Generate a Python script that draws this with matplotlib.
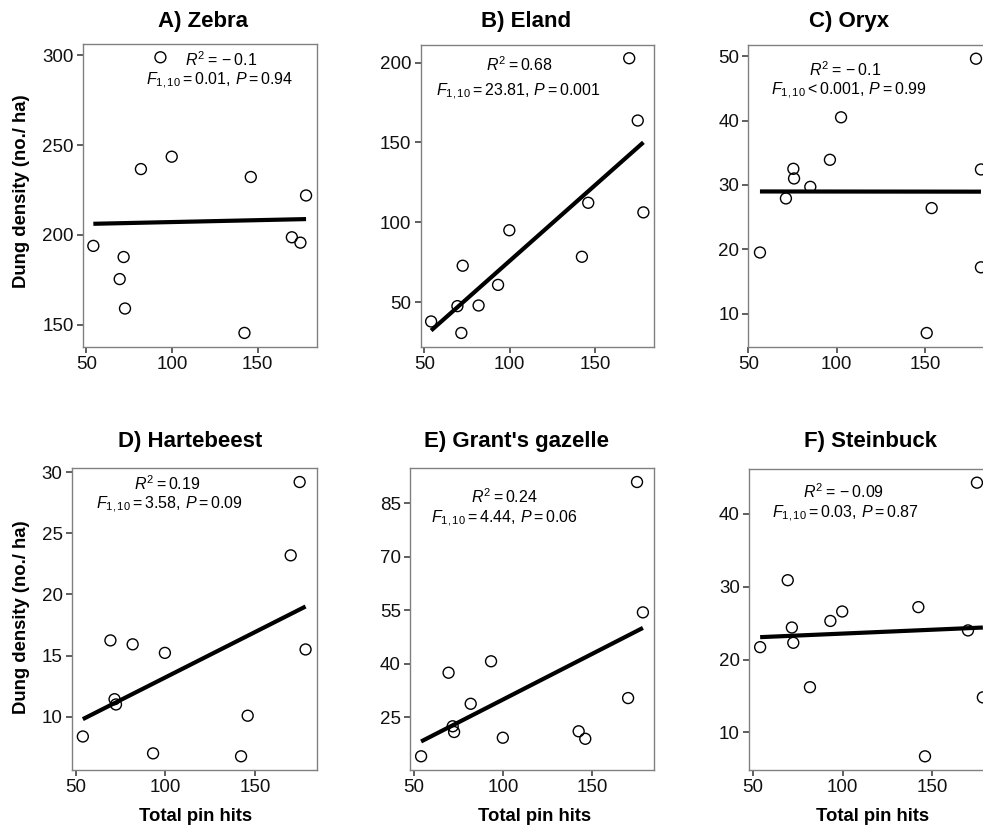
import matplotlib
matplotlib.use("Agg")
import matplotlib.pyplot as plt
import numpy as np

plt.rcParams['font.family'] = ['Liberation Sans', 'DejaVu Sans']
plt.rcParams['mathtext.fontset'] = 'custom'
plt.rcParams['mathtext.rm'] = 'Liberation Sans'
plt.rcParams['mathtext.it'] = 'Liberation Sans:italic'
plt.rcParams['mathtext.bf'] = 'Liberation Sans:bold'

# ---------------- data ----------------
titles = ["A) Zebra", "B) Eland", "C) Oryx", "D) Hartebeest", "E) Grant's gazelle", "F) Steinbuck"]

pin_hits = [54, 69.4, 71.7, 72.5, 81.8, 93.2, 99.8, 142.3, 146, 170, 175, 178.3]
pin_hits_oryx = [56.6, 71.3, 75.5, 75.9, 85.1, 96.2, 102.5, 151, 153.8, 178.9, 181.7, 181.7]

zebra = [193.9, 175.4, 187.7, 159, 236.7, 299, 243.6, 145.4, 232.3, 198.7, 195.7, 222.0]
eland = [37.9, 47.5, 30.7, 72.8, 47.9, 60.8, 95.0, 78.4, 112.2, 202.7, 163.7, 106.2]
oryx = [19.5, 27.9, 32.5, 31.0, 29.7, 33.9, 40.5, 7.0, 26.4, 49.6, 32.4, 17.2]
hartebeest = [8.38, 16.24, 11.43, 11.0, 15.92, 7.0, 15.22, 6.76, 10.08, 23.2, 29.2, 15.5]
grants_gazelle = [14.1, 37.5, 22.5, 20.9, 28.8, 40.7, 19.3, 21.1, 19.0, 30.4, 90.9, 54.4]
steinbuck = [21.7, 30.9, 24.4, 22.3, 16.2, 25.3, 26.6, 27.2, 6.7, 24.0, 44.3, 14.8]

r2_text = ["-0.1", "0.68", "-0.1", "0.19", "0.24", "-0.09"]
f_rel = ["=", "=", "<", "=", "=", "="]
f_val = ["0.01", "23.81", "0.001", "3.58", "4.44", "0.03"]
p_text = ["0.94", "0.001", "0.99", "0.09", "0.06", "0.87"]

yticks_list = [[150, 200, 250, 300], [50, 100, 150, 200], [10, 20, 30, 40, 50],
               [10, 15, 20, 25, 30], [25, 40, 55, 70, 85], [10, 20, 30, 40]]
xticks = [50, 100, 150]

xs = [pin_hits, pin_hits, pin_hits_oryx, pin_hits, pin_hits, pin_hits]
ys = [zebra, eland, oryx, hartebeest, grants_gazelle, steinbuck]

# ---------------- layout (pixels) ----------------
W, H = 983, 826
fig = plt.figure(figsize=(W / 100, H / 100), dpi=100)

boxes = [(82.7, 43.5, 316.7, 346.7), (420.5, 44.5, 654, 346.7), (748.3, 45, 992, 346.7),
         (71.7, 468.3, 316.7, 770), (410, 468.3, 654, 770), (749, 469, 994, 770)]
title_pos = [(203, 21.7), (526, 21.7), (849, 21.7), (190, 442), (517, 442), (870, 442)]
ann1_pos = [(221, 60), (519, 65), (845, 70), (167, 484), (504, 497), (844, 492)]
ann2_pos = [(220, 80.5), (518, 92), (849, 91), (169, 505), (504, 519), (845, 514)]


def fx(px):
    return px / W


def fy(py):
    return 1 - py / H


for i in range(6):
    L, T, R, B = boxes[i]
    ax = fig.add_axes([fx(L), fy(B), (R - L) / W, (B - T) / H])
    x = np.array(xs[i])
    y = np.array(ys[i])
    ax.scatter(x, y, s=62, facecolors='none', edgecolors='black', linewidths=1.0, zorder=2)
    slope, intercept = np.polyfit(x, y, 1)
    xl = np.array([x.min(), x.max()])
    ax.plot(xl, intercept + slope * xl, color='black', lw=3.0, solid_capstyle='butt', zorder=3)
    ax.margins(0.05)
    ax.set_xticks(xticks)
    ax.set_yticks(yticks_list[i])
    ax.tick_params(axis='both', labelsize=13.5, length=4, width=1.1, color='#333333',
                   labelcolor='#111111', pad=2.5)
    for sp in ax.spines.values():
        sp.set_color('#808080')
        sp.set_linewidth(1.0)
    fig.text(fx(title_pos[i][0]), fy(title_pos[i][1]), titles[i], fontsize=16,
             fontweight='bold', ha='center', va='center')
    fig.text(fx(ann1_pos[i][0]), fy(ann1_pos[i][1]), r"$R^2{=}" + r2_text[i] + "$",
             fontsize=11.5, ha='center', va='center')
    fig.text(fx(ann2_pos[i][0]), fy(ann2_pos[i][1]),
             r"$F_{1,10}{" + f_rel[i] + "}" + f_val[i] + r",\,P{=}" + p_text[i] + "$",
             fontsize=11.5, ha='center', va='center')

for py in [191, 617.5]:
    fig.text(fx(21.7), fy(py), "Dung density (no./ ha)", rotation=90, fontsize=13.3,
             fontweight='bold', ha='center', va='center')
for px in [195.7, 535, 872.8]:
    fig.text(fx(px), fy(816.7), "Total pin hits", fontsize=13.3, fontweight='bold',
             ha='center', va='center')

fig.savefig("out.png", dpi=100)
